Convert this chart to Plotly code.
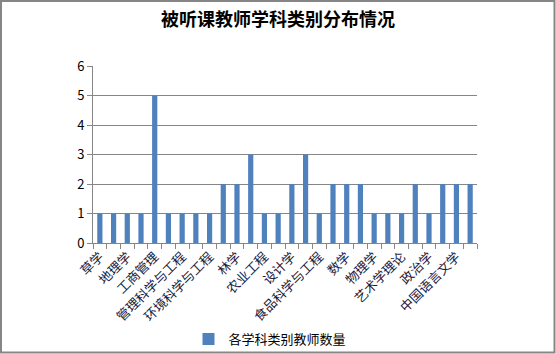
import plotly.graph_objects as go

categories = ["草学", "城乡规划学", "地理学", "电子科学与技术", "工商管理", "公共管理",
              "管理科学与工程", "化学", "环境科学与工程", "计算机科学与技术", "林学",
              "马克思主义理论", "农业工程", "软件工程", "设计学", "生物学",
              "食品科学与工程", "兽医学", "数学", "体育学", "物理学", "戏剧与影视学",
              "艺术学理论", "音乐与舞蹈学", "政治学", "植物保护", "中国语言文学", "作物学"]
values = [1, 1, 1, 1, 5, 1, 1, 1, 1, 2, 2, 3, 1, 1, 2, 3, 1, 2, 2, 2, 1, 1, 1, 2, 1, 2, 2, 2]
series_name = "各学科类别教师数量"
title_text = "被听课教师学科类别分布情况"
y_ticks = [0, 1, 2, 3, 4, 5, 6]

W, H = 556, 354
ML, MR, MT, MB = 93, 79, 66, 111
PW, PH = W - ML - MR, H - MT - MB

font = "Noto Sans CJK SC"
grid = "#868686"

fig = go.Figure()
fig.add_trace(go.Bar(
    x=categories, y=values, name=series_name,
    marker=dict(color="#4F81BD", line=dict(width=0)),
    width=0.38,
))
# invisible trace to activate boundary tick axis
fig.add_trace(go.Scatter(x=[-0.5, len(categories) - 0.5], y=[0, 0], xaxis="x2",
                         mode="markers", marker=dict(opacity=0), showlegend=False,
                         hoverinfo="skip"))

fig.update_layout(
    width=W, height=H,
    margin=dict(l=ML, r=MR, t=MT, b=MB, pad=0, autoexpand=False),
    paper_bgcolor="white", plot_bgcolor="white",
    font=dict(family=font, size=12, color="#000000"),
    title=dict(text="<b>" + title_text + "</b>", x=0.5, xanchor="center",
               xref="container", yref="container",
               y=1 - 20 / H, yanchor="middle",
               font=dict(family=font, size=18, color="#000000")),
    showlegend=True,
    legend=dict(orientation="h", xref="container", yref="container",
                x=270 / W, xanchor="center",
                y=1 - 339 / H, yanchor="middle",
                font=dict(family=font, size=13, color="#000000"),
                itemwidth=30, bgcolor="rgba(0,0,0,0)"),
    xaxis=dict(
        type="category", categoryorder="array", categoryarray=categories,
        tickmode="array", tickvals=categories[::2], ticktext=categories[::2],
        tickangle=-45, ticks="", showgrid=False, automargin=False,
        showline=True, linecolor=grid, linewidth=1,
        tickfont=dict(family=font, size=13, color="#1a1a40"),
        range=[-0.5, len(categories) - 0.5],
    ),
    xaxis2=dict(
        overlaying="x", side="bottom", range=[-0.5, len(categories) - 0.5],
        tickmode="linear", tick0=-0.5, dtick=1, ticks="outside", ticklen=5,
        tickcolor=grid, showticklabels=False, showgrid=False, zeroline=False,
        showline=False, automargin=False,
    ),
    yaxis=dict(
        range=[0, 6], tickmode="array", tickvals=y_ticks,
        ticks="outside", ticklen=5, tickcolor=grid, automargin=False,
        showgrid=True, gridcolor=grid, gridwidth=1,
        showline=True, linecolor=grid, linewidth=1, zeroline=False,
        tickfont=dict(family=font, size=13, color="#000000"),
    ),
)

# outer chart border
fig.add_shape(type="rect", xref="paper", yref="paper",
              x0=(1 - ML) / PW, x1=(554.5 - ML) / PW,
              y0=(H - MB - 352.5) / PH, y1=(H - MB - 1) / PH,
              line=dict(color="#868686", width=2), fillcolor="rgba(0,0,0,0)",
              layer="below")

fig.write_html("out.html")
